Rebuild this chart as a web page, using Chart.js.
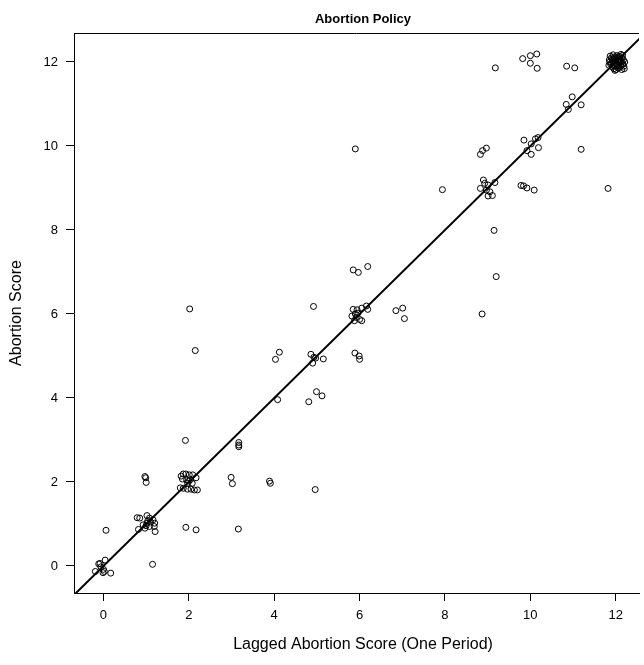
<!DOCTYPE html>
<html>
<head>
<meta charset="utf-8">
<script src="https://cdn.jsdelivr.net/npm/chart.js@4"></script>
<style>
    html, body { margin: 0; padding: 0; background: #fff; overflow: hidden; }
</style>
</head>
<body>
<canvas id="scoreChart" width="644" height="665"></canvas>
<script>
const titleText = 'Abortion Policy';
const xTitle = 'Lagged Abortion Score (One Period)';
const yTitle = 'Abortion Score';
const tickValues = [0, 2, 4, 6, 8, 10, 12];

// lagged score (x) and current score (y)
const laggedScore = [
    -0.19, -0.11, -0.08, -0.06, -0.01, 0.00, 0.04, 0.17, 0.02, 0.06, 1.15,
    0.79, 0.85, 1.02, 1.08, 1.16, 1.20, 0.82, 0.97, 1.08, 1.19, 1.21, 1.02, 1.04, 0.93, 1.00, 1.10,
    0.97, 0.99, 1.00,
    1.82, 1.87, 1.93, 2.01, 2.09, 2.17, 1.80, 1.87, 1.97, 2.05, 2.13, 2.20, 2.00, 1.95, 1.97, 2.04, 1.85, 2.08,
    1.92, 1.93, 2.17, 2.02, 2.15,
    3.17, 3.17, 3.17, 2.99, 3.02, 3.16,
    3.89, 3.91, 4.08, 4.12, 4.03,
    4.81, 4.99, 5.12, 4.96, 4.86, 4.93, 4.90, 5.15, 4.97, 4.92,
    5.89, 5.99, 6.00,
    5.85, 5.94, 6.05, 6.16, 6.19, 5.82, 5.92, 6.00, 6.05, 5.88, 5.96, 5.90,
    5.85, 5.97, 6.19, 6.85, 7.01, 7.05, 5.90,
    7.94, 8.83, 8.88, 8.97,
    8.90, 8.83, 8.93, 9.01, 9.17, 8.97, 9.01, 9.11, 9.05,
    9.78, 9.84, 9.92, 10.09, 9.15, 9.20, 8.87, 9.18,
    9.82, 10.00, 10.15, 10.00, 10.16,
    9.85, 10.12, 10.18, 10.02, 9.92, 10.02, 10.19,
    10.85, 11.04, 10.98, 10.84, 10.89, 11.19, 11.19, 11.82,
    11.85, 11.88, 11.90, 11.92, 11.95, 11.97, 11.98, 12.00, 12.02, 12.03, 12.05, 12.06, 12.08, 12.10, 12.12,
    12.13, 12.15, 12.17, 12.18, 12.20, 11.84, 11.87, 11.93, 11.96, 12.00, 12.04, 12.07, 12.10, 12.14, 12.16,
    11.90, 11.94, 11.99, 12.01, 12.05, 12.09, 12.11, 12.19, 11.86, 12.03, 11.92, 12.07, 12.12, 11.98, 12.21
];
const abortionScore = [
    -0.13, 0.05, 0.06, -0.02, -0.16, -0.08, 0.14, -0.17, -0.13, 0.85, 0.04,
    1.15, 1.14, 1.20, 1.14, 1.10, 1.02, 0.87, 0.90, 0.94, 0.94, 0.82, 1.02, 1.08, 0.98, 0.96, 1.05,
    2.13, 2.10, 1.99,
    2.14, 2.19, 2.19, 2.17, 2.17, 2.10, 1.86, 1.85, 1.83, 1.83, 1.81, 1.81, 2.02, 2.05, 1.97, 2.06, 2.07, 1.97,
    2.99, 0.92, 0.86, 6.12, 5.13,
    2.94, 2.88, 2.84, 2.11, 1.96, 0.88,
    2.02, 1.97, 3.96, 5.09, 4.92,
    3.91, 4.15, 4.05, 1.82, 5.04, 4.97, 4.83, 4.93, 4.95, 6.18,
    5.07, 5.00, 4.92,
    6.11, 6.10, 6.14, 6.19, 6.11, 5.95, 5.92, 5.87, 5.84, 5.84, 6.02, 6.00,
    7.05, 6.99, 7.13, 6.08, 6.14, 5.89, 9.93,
    8.96, 9.80, 9.89, 9.95,
    9.19, 8.99, 9.11, 9.07, 9.13, 8.95, 8.81, 8.82, 8.91,
    9.06, 9.05, 9.00, 8.95, 7.99, 6.89, 6.00, 11.86,
    12.08, 12.15, 12.19, 11.97, 11.85,
    10.14, 10.17, 10.20, 10.05, 9.89, 9.80, 9.96,
    11.90, 11.86, 11.17, 10.99, 10.87, 10.98, 9.92, 8.99,
    12.05, 11.95, 12.10, 11.88, 12.00, 12.12, 11.92, 12.04, 11.96, 12.15, 11.86, 12.08, 11.98, 12.13, 11.90,
    12.02, 12.10, 11.95, 12.05, 11.84, 11.92, 12.14, 12.02, 11.84, 11.90, 12.02, 11.92, 12.06, 11.82, 12.16,
    11.98, 12.17, 12.08, 11.82, 12.12, 11.87, 12.00, 11.90, 12.00, 11.93, 12.06, 12.04, 12.18, 11.80, 12.00
];
// 45-degree reference line
const lineX = [-1, 13];
const lineY = [-1, 13];

const points = laggedScore.map((x, i) => ({ x: x, y: abortionScore[i] }));
const diagonal = lineX.map((x, i) => ({ x: x, y: lineY[i] }));

const fontFamily = '"Liberation Sans", Arial, Helvetica, sans-serif';
Chart.defaults.font.family = fontFamily;
Chart.defaults.color = '#000';

// top border, main title and x title (centred on the full plot region, which runs past the right edge)
const frame = {
    id: 'frame',
    afterDraw(chart) {
        const { ctx, chartArea: a } = chart;
        ctx.save();
        ctx.strokeStyle = '#000';
        ctx.lineWidth = 1;
        ctx.beginPath();
        ctx.moveTo(a.left, Math.round(a.top) + 0.5);
        ctx.lineTo(a.right, Math.round(a.top) + 0.5);
        ctx.stroke();
        ctx.fillStyle = '#000';
        ctx.textAlign = 'center';
        ctx.textBaseline = 'middle';
        ctx.font = 'bold 13px ' + fontFamily;
        ctx.fillText(titleText, 363, 19);
        ctx.font = '16px ' + fontFamily;
        ctx.fillText(xTitle, 363, 645);
        ctx.restore();
    }
};

const ctx = document.getElementById('scoreChart').getContext('2d');
new Chart(ctx, {
    type: 'scatter',
    data: {
        datasets: [{
            type: 'line',
            data: diagonal,
            borderColor: '#000',
            borderWidth: 2,
            pointRadius: 0,
            fill: false,
            clip: 0
        }, {
            data: points,
            pointStyle: 'circle',
            pointRadius: 3,
            pointBorderWidth: 1,
            borderColor: '#000',
            backgroundColor: 'rgba(0,0,0,0)',
            clip: false
        }]
    },
    options: {
        responsive: false,
        animation: false,
        events: [],
        layout: { padding: { top: 33, right: 0, left: 0, bottom: 0 } },
        plugins: {
            legend: { display: false },
            title: { display: false },
            tooltip: { enabled: false }
        },
        scales: {
            x: {
                type: 'linear',
                min: -0.69,
                max: 12.545,
                grid: { drawOnChartArea: false, drawTicks: true, tickLength: 8, color: '#000' },
                border: { display: true, color: '#000', width: 1 },
                ticks: {
                    stepSize: 2,
                    includeBounds: false,
                    padding: 7,
                    font: { size: 13 },
                    color: '#000',
                    maxRotation: 0
                },
                afterBuildTicks: scale => { scale.ticks = tickValues.map(v => ({ value: v })); },
                title: { display: false },
                afterFit: scale => { scale.height = 72; }
            },
            y: {
                type: 'linear',
                min: -0.643,
                max: 12.69,
                grid: { drawOnChartArea: false, drawTicks: true, tickLength: 8, color: '#000' },
                border: { display: true, color: '#000', width: 1 },
                ticks: {
                    stepSize: 2,
                    includeBounds: false,
                    padding: 8,
                    font: { size: 13 },
                    color: '#000'
                },
                afterBuildTicks: scale => { scale.ticks = tickValues.map(v => ({ value: v })); },
                title: {
                    display: true,
                    text: yTitle,
                    font: { size: 16 },
                    color: '#000',
                    padding: { top: 7, bottom: 0 }
                },
                afterFit: scale => { scale.width = 74; }
            }
        }
    },
    plugins: [frame]
});
</script>
</body>
</html>
